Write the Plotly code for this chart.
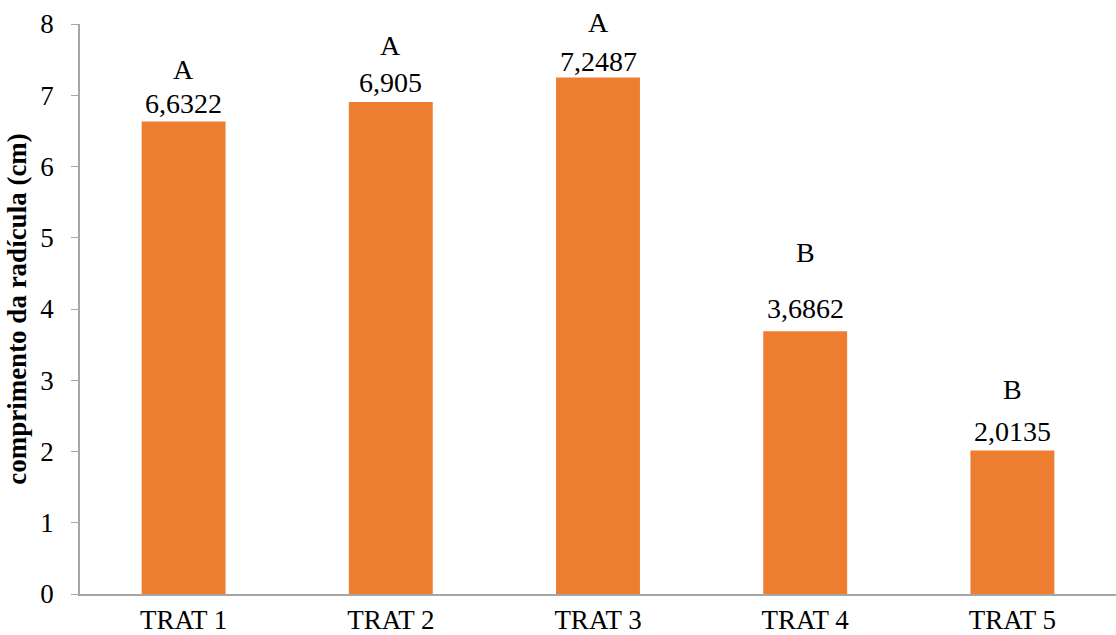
import plotly.graph_objects as go

# Root length by treatment
categories = ["TRAT 1", "TRAT 2", "TRAT 3", "TRAT 4", "TRAT 5"]
values = [6.6322, 6.905, 7.2487, 3.6862, 2.0135]
value_labels = ["6,6322", "6,905", "7,2487", "3,6862", "2,0135"]
groups = ["A", "A", "A", "B", "B"]
y_ticks = [0, 1, 2, 3, 4, 5, 6, 7, 8]

# Vertical offsets (px) of the value labels and group letters above each bar
value_shift = [18, 20, 16, 23, 19]
group_shift = [52, 57, 55, 79, 61]

FONT = "Liberation Serif"
AXIS_GREY = "#A6A6A6"

fig = go.Figure(
    go.Bar(
        x=categories,
        y=values,
        marker=dict(color="#ED7D31", line=dict(width=0)),
        width=0.405,
        hoverinfo="x+y",
    )
)

annotations = []
for cat, v, lab, grp, vs, gs in zip(categories, values, value_labels, groups, value_shift, group_shift):
    annotations.append(dict(x=cat, y=v, xref="x", yref="y", text=lab, showarrow=False,
                            yanchor="middle", yshift=vs, font=dict(family=FONT, size=28, color="#000")))
    annotations.append(dict(x=cat, y=v, xref="x", yref="y", text=grp, showarrow=False,
                            yanchor="middle", yshift=gs, font=dict(family=FONT, size=28, color="#000")))

fig.update_layout(
    width=1116,
    height=635,
    margin=dict(l=80, r=0, t=24, b=41),
    paper_bgcolor="white",
    plot_bgcolor="white",
    showlegend=False,
    annotations=annotations,
    font=dict(family=FONT, color="#000"),
    xaxis=dict(
        automargin=False,
        showline=True,
        linecolor=AXIS_GREY,
        linewidth=1.5,
        ticks="",
        showgrid=False,
        ticklabelstandoff=1,
        tickfont=dict(family=FONT, size=27, color="#000"),
    ),
    yaxis=dict(
        automargin=False,
        range=[0, 8],
        tickvals=y_ticks,
        showline=True,
        linecolor=AXIS_GREY,
        linewidth=1.5,
        ticks="outside",
        ticklen=7,
        tickcolor=AXIS_GREY,
        showgrid=False,
        zeroline=False,
        ticklabelstandoff=12,
        tickfont=dict(family=FONT, size=27, color="#000"),
        title=dict(text="<b>comprimento da radícula (cm)</b>",
                   font=dict(family=FONT, size=27, color="#000"), standoff=6),
    ),
)

fig.write_html("out.html")
